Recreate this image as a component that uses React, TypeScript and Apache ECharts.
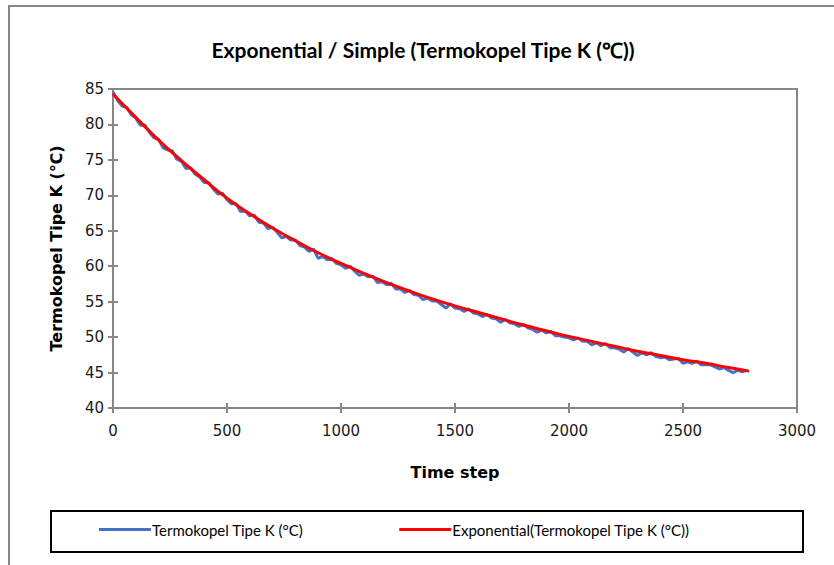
import React, { useEffect, useRef } from "react";
import * as echarts from "echarts";

const chartTitle = "Exponential / Simple (Termokopel Tipe K (℃))";
const xAxisName = "Time step";
const yAxisName = "Termokopel Tipe K (℃)";
const seriesNames = ["Termokopel Tipe K (°C)", "Exponential(Termokopel Tipe K (°C))"];

// measured series: one reading every 20 time steps (t = 0, 20, ... 2780)
const measuredStep = 20;
const measuredValues = [
  84.6, 83.4, 82.6, 82.4, 81.4, 80.9, 79.9, 79.9, 78.9, 78.1,
  77.9, 76.7, 76.4, 76.3, 75.1, 74.8, 73.8, 73.9, 73.0, 72.6,
  71.8, 71.8, 70.9, 70.2, 70.3, 69.4, 68.8, 68.8, 67.7, 67.8,
  67.1, 67.2, 66.2, 66.1, 65.3, 65.5, 64.8, 64.0, 64.2, 63.7,
  63.7, 62.9, 62.7, 62.1, 62.4, 61.1, 61.4, 60.9, 61.1, 60.4,
  60.2, 59.7, 60.0, 59.3, 58.7, 58.9, 58.5, 58.6, 57.7, 57.8,
  57.4, 57.6, 56.8, 56.8, 56.3, 56.6, 56.0, 55.9, 55.3, 55.5,
  55.1, 55.1, 54.6, 54.1, 54.7, 54.1, 54.0, 53.6, 54.0, 53.4,
  53.3, 52.9, 53.2, 52.7, 52.6, 52.1, 52.5, 52.0, 51.9, 51.5,
  51.8, 51.3, 51.1, 50.7, 51.0, 50.6, 50.8, 50.2, 50.2, 50.0,
  49.9, 49.6, 49.9, 49.4, 49.4, 48.9, 49.2, 48.8, 49.1, 48.5,
  48.5, 48.3, 47.9, 48.4, 47.9, 47.4, 47.8, 47.5, 47.8, 47.3,
  47.1, 47.2, 46.8, 46.9, 47.0, 46.3, 46.5, 46.3, 46.6, 46.1,
  46.1, 46.1, 45.8, 45.5, 45.7, 45.3, 45.0, 45.3, 45.1, 45.3,
];

// smoothed (exponential) series
const smoothTimes = [
  0, 100, 200, 300, 400, 500, 600, 700, 800, 900, 1000, 1100, 1200, 1300, 1400,
  1500, 1600, 1700, 1800, 1900, 2000, 2100, 2200, 2300, 2400, 2500, 2600, 2700, 2790,
];
const smoothValues = [
  84.3, 81.0, 77.8, 74.9, 72.2, 69.6, 67.4, 65.4, 63.6, 61.9, 60.4, 59.0, 57.7, 56.5, 55.4,
  54.4, 53.5, 52.6, 51.7, 50.9, 50.1, 49.4, 48.7, 48.0, 47.4, 46.8, 46.3, 45.7, 45.2,
];

const xMin = 0, xMax = 3000, xInterval = 500;
const yMin = 40, yMax = 85, yInterval = 5;

export default function App() {
  const ref = useRef<HTMLDivElement>(null);
  useEffect(() => {
    if (!ref.current) return;
    const chart = echarts.init(ref.current, null, { renderer: "svg" });
    const gray = "#878787";
    const measured = measuredValues.map((v, i) => [i * measuredStep, v]);
    const smooth = smoothValues.map((v, i) => [smoothTimes[i], v]);
    const tickFont = { fontFamily: "DejaVu Sans", fontSize: 15, color: "#1a1a1a" };
    chart.setOption({
      animation: false,
      backgroundColor: "#fff",
      title: {
        text: chartTitle,
        left: 418,
        top: 34,
        textAlign: "center",
        textStyle: { fontFamily: "Lato", fontWeight: "bold", fontSize: 21, color: "#000" },
      },
      graphic: [
        {
          type: "rect",
          shape: { x: 9, y: 6, width: 1000, height: 800 },
          style: { fill: "none", stroke: gray, lineWidth: 2 },
          silent: true,
        },
        {
          type: "rect",
          shape: { x: 51, y: 511, width: 752, height: 41 },
          style: { fill: "none", stroke: "#000", lineWidth: 2 },
          silent: true,
        },
      ],
      legend: {
        left: 94,
        top: 517,
        itemWidth: 52,
        itemHeight: 3,
        itemGap: 96,
        icon: "rect",
        textStyle: { fontFamily: "Lato", fontSize: 15, color: "#000", padding: [0, 0, 0, -4] },
        data: seriesNames,
      },
      grid: {
        left: 113,
        right: 37,
        top: 89,
        bottom: 157,
        show: true,
        borderColor: gray,
        borderWidth: 2,
      },
      xAxis: [
        {
          type: "value",
          min: xMin,
          max: xMax,
          interval: xInterval,
          position: "bottom",
          name: xAxisName,
          nameLocation: "middle",
          nameGap: 56,
          nameTextStyle: { fontFamily: "DejaVu Sans", fontWeight: "bold", fontSize: 16, color: "#000" },
          axisLine: { show: true, lineStyle: { color: gray, width: 2 } },
          axisTick: { show: true, inside: false, length: 5, lineStyle: { color: gray, width: 2 } },
          axisLabel: { ...tickFont, margin: 15, formatter: (v: number) => String(v) },
          splitLine: { show: false },
        },
        {
          type: "value",
          min: xMin,
          max: xMax,
          interval: xInterval,
          position: "bottom",
          offset: 0,
          axisLine: { show: false },
          axisTick: { show: true, inside: true, length: 5, lineStyle: { color: gray, width: 2 } },
          axisLabel: { show: false },
          splitLine: { show: false },
        },
      ],
      yAxis: [
        {
          type: "value",
          min: yMin,
          max: yMax,
          interval: yInterval,
          position: "left",
          name: yAxisName,
          nameLocation: "middle",
          nameGap: 49,
          nameTextStyle: { fontFamily: "DejaVu Sans", fontWeight: "bold", fontSize: 16, color: "#000" },
          axisLine: { show: true, lineStyle: { color: gray, width: 2 } },
          axisTick: { show: true, inside: false, length: 5, lineStyle: { color: gray, width: 2 } },
          axisLabel: { ...tickFont, margin: 9 },
          splitLine: { show: false },
        },
        {
          type: "value",
          min: yMin,
          max: yMax,
          interval: yInterval,
          position: "left",
          offset: 0,
          axisLine: { show: false },
          axisTick: { show: true, inside: true, length: 5, lineStyle: { color: gray, width: 2 } },
          axisLabel: { show: false },
          splitLine: { show: false },
        },
      ],
      series: [
        {
          name: seriesNames[0],
          type: "line",
          data: measured,
          showSymbol: false,
          symbol: "none",
          color: "#4472C4",
          lineStyle: { color: "#4472C4", width: 3 },
        },
        {
          name: seriesNames[1],
          type: "line",
          data: smooth,
          showSymbol: false,
          symbol: "none",
          smooth: true,
          color: "#FF0000",
          lineStyle: { color: "#FF0000", width: 3 },
        },
      ],
    });
    return () => chart.dispose();
  }, []);
  return (
    <div
      ref={ref}
      style={{ position: "fixed", left: 0, top: 0, width: 834, height: 565, background: "#fff" }}
    />
  );
}
